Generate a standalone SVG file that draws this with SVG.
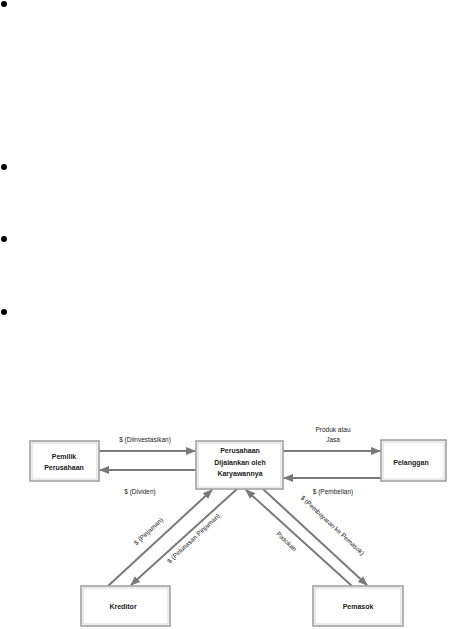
<svg xmlns="http://www.w3.org/2000/svg" width="449" height="629" viewBox="0 0 449 629">
<style>
.box{fill:#fff;stroke:#9a9a9a;stroke-width:1.5}
.inner{fill:none;stroke:#d6d6d6;stroke-width:1}
.t{font-family:"Liberation Sans",Arial,sans-serif;font-size:7px;font-weight:bold;fill:#222;text-anchor:middle}
.l{font-family:"Liberation Sans",Arial,sans-serif;font-size:6.5px;fill:#222;text-anchor:middle}
.c{stroke:#7a7a7a;stroke-width:2;fill:none;marker-end:url(#ah)}
</style>
<defs>
<marker id="ah" viewBox="0 0 10 8" refX="9" refY="4" markerWidth="5" markerHeight="4" orient="auto" markerUnits="strokeWidth">
<path d="M0,0 L10,4 L0,8 Z" fill="#7a7a7a"/>
</marker>
</defs>
<rect width="449" height="629" fill="#fff"/>
<g id="bullets" fill="#000">
<circle cx="4" cy="4" r="3"/>
<circle cx="4" cy="167" r="3"/>
<circle cx="4" cy="239" r="3"/>
<circle cx="4" cy="312" r="3"/>
</g>
<g id="connectors">
<line class="c" x1="99" y1="451" x2="195" y2="451"/>
<line class="c" x1="196" y1="470" x2="100" y2="470"/>
<line class="c" x1="283" y1="451" x2="380" y2="451"/>
<line class="c" x1="381" y1="478" x2="284" y2="478"/>
<line class="c" x1="108" y1="586" x2="212" y2="490"/>
<line class="c" x1="237" y1="489" x2="131" y2="585"/>
<line class="c" x1="352" y1="586" x2="246" y2="490"/>
<line class="c" x1="263" y1="489" x2="367" y2="585"/>
<text class="l" x="145" y="442">$ (Diinvestasikan)</text>
<text class="l" x="140" y="494">$ (Dividen)</text>
<text class="l" x="333" y="432">Produk atau</text>
<text class="l" x="333" y="442">Jasa</text>
<text class="l" x="333" y="494">$ (Pembelian)</text>
<text class="l" transform="translate(150,533) rotate(-43)">$ (Pinjaman)</text>
<text class="l" transform="translate(195,540) rotate(-43)">$ (Pelunasan Pinjaman)</text>
<text class="l" transform="translate(285,543) rotate(44)">Pasokan</text>
<text class="l" transform="translate(331,527) rotate(43)">$ (Pembayaran ke Pemasok)</text>
</g>
<g id="pemilik">
<rect class="box" x="30" y="441" width="69" height="40"/>
<rect class="inner" x="32" y="443" width="65" height="36"/>
<text class="t" x="64" y="459">Pemilik</text>
<text class="t" x="64" y="470">Perusahaan</text>
</g>
<g id="perusahaan">
<rect class="box" x="196" y="441" width="87" height="48"/>
<rect class="inner" x="198" y="443" width="83" height="44"/>
<text class="t" x="240" y="453">Perusahaan</text>
<text class="t" x="240" y="465">Dijalankan oleh</text>
<text class="t" x="240" y="476">Karyawannya</text>
</g>
<g id="pelanggan">
<rect class="box" x="381" y="440" width="65" height="41"/>
<rect class="inner" x="383" y="442" width="61" height="37"/>
<text class="t" x="411" y="465">Pelanggan</text>
</g>
<g id="kreditor">
<rect class="box" x="81" y="586" width="89" height="40"/>
<rect class="inner" x="83" y="588" width="85" height="36"/>
<text class="t" x="123" y="609">Kreditor</text>
</g>
<g id="pemasok">
<rect class="box" x="313" y="586" width="90" height="40"/>
<rect class="inner" x="315" y="588" width="86" height="36"/>
<text class="t" x="358" y="609">Pemasok</text>
</g>
</svg>
